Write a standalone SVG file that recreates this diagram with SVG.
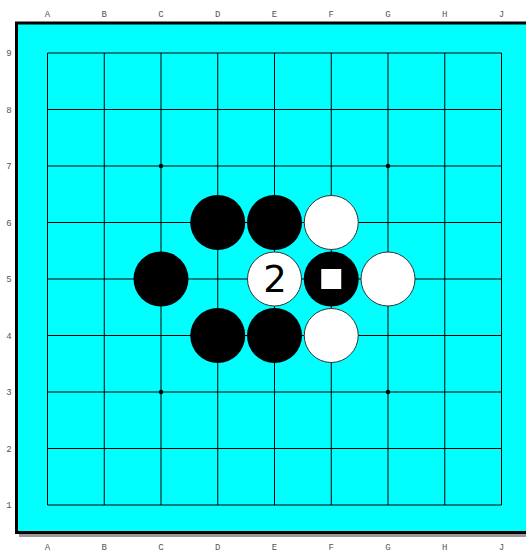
<svg xmlns="http://www.w3.org/2000/svg" width="526" height="552" viewBox="0 0 526 552">
<style>
.lbl{font-family:"Liberation Mono","DejaVu Sans Mono",monospace;font-size:9px;fill:#555;text-anchor:middle}
.grid line{stroke:#000;stroke-width:1}
.b{fill:#000}
.w{fill:#fff;stroke:#333;stroke-width:1}
.star{fill:#000}
</style>
<rect x="0" y="0" width="526" height="552" fill="#fff"/>
<g id="board">
<rect x="19" y="534" width="520" height="3" fill="#999"/>
<rect x="16.5" y="23" width="520" height="509.5" fill="#00ffff" stroke="#000" stroke-width="3"/>
</g>
<g id="labels">
<text class="lbl" x="47.5" y="17">A</text><text class="lbl" x="104.25" y="17">B</text><text class="lbl" x="161" y="17">C</text><text class="lbl" x="217.75" y="17">D</text><text class="lbl" x="274.5" y="17">E</text><text class="lbl" x="331.25" y="17">F</text><text class="lbl" x="388" y="17">G</text><text class="lbl" x="444.75" y="17">H</text><text class="lbl" x="501.5" y="17">J</text>
<text class="lbl" x="47.5" y="550">A</text><text class="lbl" x="104.25" y="550">B</text><text class="lbl" x="161" y="550">C</text><text class="lbl" x="217.75" y="550">D</text><text class="lbl" x="274.5" y="550">E</text><text class="lbl" x="331.25" y="550">F</text><text class="lbl" x="388" y="550">G</text><text class="lbl" x="444.75" y="550">H</text><text class="lbl" x="501.5" y="550">J</text>
<text class="lbl" x="9" y="56">9</text><text class="lbl" x="9" y="112.5">8</text><text class="lbl" x="9" y="169">7</text><text class="lbl" x="9" y="225.5">6</text><text class="lbl" x="9" y="282">5</text><text class="lbl" x="9" y="338.5">4</text><text class="lbl" x="9" y="395">3</text><text class="lbl" x="9" y="451.5">2</text><text class="lbl" x="9" y="508">1</text>
</g>
<g id="connectors" class="grid">
<line x1="47.5" y1="53" x2="47.5" y2="505"/><line x1="104.25" y1="53" x2="104.25" y2="505"/><line x1="161" y1="53" x2="161" y2="505"/><line x1="217.75" y1="53" x2="217.75" y2="505"/><line x1="274.5" y1="53" x2="274.5" y2="505"/><line x1="331.25" y1="53" x2="331.25" y2="505"/><line x1="388" y1="53" x2="388" y2="505"/><line x1="444.75" y1="53" x2="444.75" y2="505"/><line x1="501.5" y1="53" x2="501.5" y2="505"/>
<line x1="47.5" y1="53" x2="501.5" y2="53"/><line x1="47.5" y1="109.5" x2="501.5" y2="109.5"/><line x1="47.5" y1="166" x2="501.5" y2="166"/><line x1="47.5" y1="222.5" x2="501.5" y2="222.5"/><line x1="47.5" y1="279" x2="501.5" y2="279"/><line x1="47.5" y1="335.5" x2="501.5" y2="335.5"/><line x1="47.5" y1="392" x2="501.5" y2="392"/><line x1="47.5" y1="448.5" x2="501.5" y2="448.5"/><line x1="47.5" y1="505" x2="501.5" y2="505"/>
</g>
<g id="stars">
<circle class="star" cx="161" cy="166" r="2.2"/><circle class="star" cx="388" cy="166" r="2.2"/><circle class="star" cx="161" cy="392" r="2.2"/><circle class="star" cx="388" cy="392" r="2.2"/>
</g>
<g id="D6"><circle class="b" cx="217.75" cy="222.5" r="27.5"/></g>
<g id="E6"><circle class="b" cx="274.5" cy="222.5" r="27.5"/></g>
<g id="F6"><circle class="w" cx="331.25" cy="222.5" r="27"/></g>
<g id="C5"><circle class="b" cx="161" cy="279" r="27.5"/></g>
<g id="E5"><circle class="w" cx="274.5" cy="279" r="27"/><text x="275" y="292" font-family="DejaVu Sans,sans-serif" font-size="37" text-anchor="middle" fill="#000">2</text></g>
<g id="F5"><circle class="b" cx="331.25" cy="279" r="27.5"/><rect x="321.25" y="269" width="20" height="20" fill="#fff"/></g>
<g id="G5"><circle class="w" cx="388" cy="279" r="27"/></g>
<g id="D4"><circle class="b" cx="217.75" cy="335.5" r="27.5"/></g>
<g id="E4"><circle class="b" cx="274.5" cy="335.5" r="27.5"/></g>
<g id="F4"><circle class="w" cx="331.25" cy="335.5" r="27"/></g>
</svg>
